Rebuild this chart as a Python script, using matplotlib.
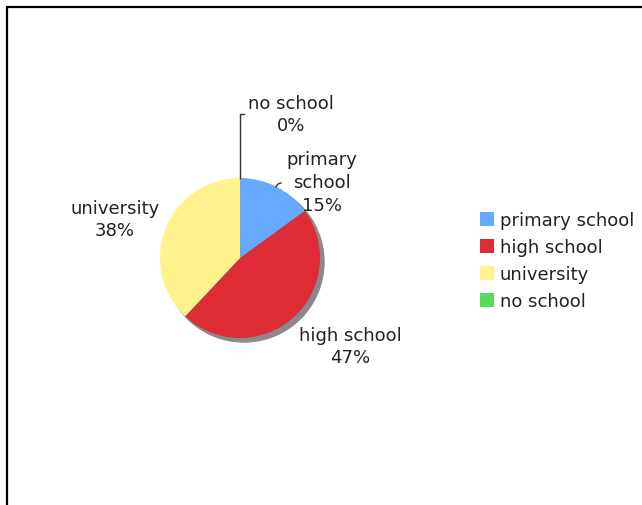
import matplotlib
matplotlib.use("Agg")
import matplotlib.pyplot as plt
from matplotlib.patches import Circle, Patch

categories = ["primary school", "high school", "university", "no school"]
values = [15, 47, 38, 0]
colors = ["#66AAFF", "#DD2C35", "#FFF28C", "#55DD55"]
label_texts = ["primary\nschool", "high school", "university", "no school"]

W, H = 642, 506
fig = plt.figure(figsize=(W / 100, H / 100), dpi=100)
ax = fig.add_axes([0, 0, 1, 1])

# border (runs off right and bottom)
ax.plot([6.5, 6.5, W + 5], [-5, H - 7.5, H - 7.5], color="black", lw=1.6,
        solid_capstyle="butt", solid_joinstyle="miter")

cx, cy, r = 240, H - 259, 80
# shadow
ax.add_patch(Circle((cx + 4, cy - 4), r, color="#8a8a8a", zorder=1))
wedges, _ = ax.pie(values, colors=colors, startangle=90, counterclock=False,
                   center=(cx, cy), radius=r, frame=True,
                   wedgeprops=dict(linewidth=0, zorder=2))
ax.set_xlim(0, W)
ax.set_ylim(0, H)
ax.set_aspect("equal")
ax.axis("off")

fs = 13
tc = "#222222"
label_pos = [(322, H - 183), (350, H - 347), (115, H - 220), (291, H - 115)]
for txt, v, (x, y) in zip(label_texts, values, label_pos):
    ax.text(x, y, f"{txt}\n{v}%", ha="center", va="center", fontsize=fs,
            color=tc, linespacing=1.35, zorder=5)

# leader lines
ax.plot([240, 240, 244], [H - 179, H - 115, H - 115], color="#333333", lw=1, zorder=4)
ax.plot([276, 278, 281], [H - 188, H - 185, H - 184], color="#333333", lw=1, zorder=4)

handles = [Patch(facecolor=c, edgecolor="none") for c in colors]
leg = ax.legend(handles, categories, loc="upper left",
                bbox_to_anchor=(471 / W, 1 - 203 / H), bbox_transform=fig.transFigure,
                frameon=False, fontsize=fs, handlelength=0.8, handleheight=0.8,
                handletextpad=0.3, labelspacing=0.5, borderpad=0)
for t in leg.get_texts():
    t.set_color(tc)

fig.savefig("out.png", dpi=100)
